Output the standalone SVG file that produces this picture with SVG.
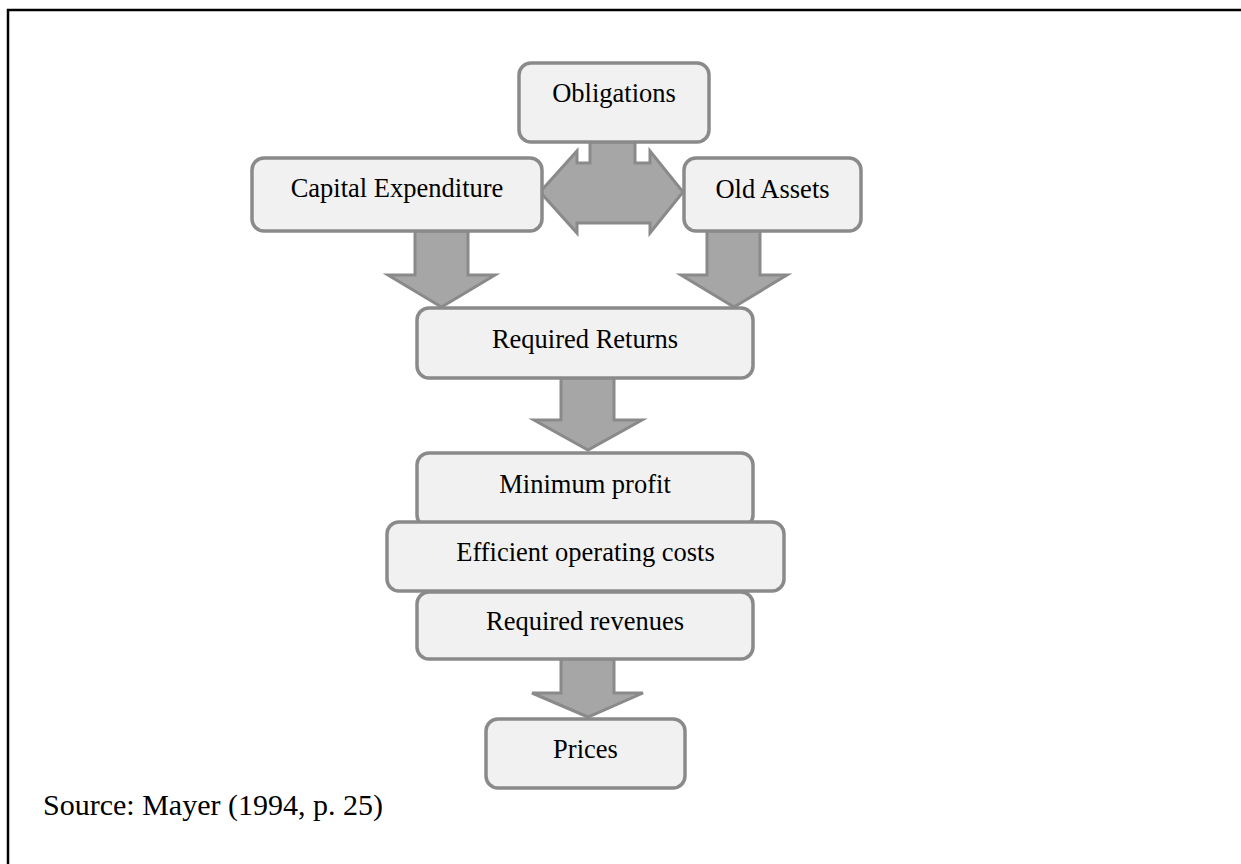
<svg xmlns="http://www.w3.org/2000/svg" width="1241" height="864" viewBox="0 0 1241 864">
  <style>
    .box { fill: #f1f1f1; stroke: #8a8a8a; stroke-width: 3.5; }
    .arrow { fill: #a6a6a6; stroke: #8a8a8a; stroke-width: 3; stroke-linejoin: miter; }
    .label { font-family: "Liberation Serif", "Times New Roman", serif; font-size: 26.5px; fill: #000; text-anchor: middle; }
    .frame { fill: none; stroke: #000; stroke-width: 2.5; }
    .source { font-family: "Liberation Serif", "Times New Roman", serif; font-size: 30px; fill: #000; }
  </style>
  <rect width="1241" height="864" fill="#fff"/>

  <!-- frame: top and left rules only -->
  <path class="frame" d="M8 864 V10 H1241"/>

  <!-- connectors -->
  <g id="connectors">
    <!-- Obligations splits toward both sides -->
    <path class="arrow" d="M590 142 V163 H577 V151 L540 192 L577 233 V223 H650 V233 L683 192 L650 151 V163 H635 V142 Z"/>
    <!-- Capital Expenditure to Required Returns -->
    <path class="arrow" d="M415 231 V275 H388 L441.5 307 L495 275 H468 V231 Z"/>
    <!-- Old Assets to Required Returns -->
    <path class="arrow" d="M707 231 V275 H681 L734 307 L787 275 H760 V231 Z"/>
    <!-- Required Returns to Minimum profit -->
    <path class="arrow" d="M561 378 V420 H534 L588 450 L642 420 H614 V378 Z"/>
    <!-- Required revenues to Prices -->
    <path class="arrow" d="M561 659 V693 H532 L588 717 L643 693 H614 V659 Z"/>
  </g>

  <g id="obligations">
    <rect class="box" x="519" y="63" width="190" height="79" rx="12"/>
    <text class="label" x="614" y="102">Obligations</text>
  </g>
  <g id="capital-expenditure">
    <rect class="box" x="252" y="158" width="290" height="73" rx="12"/>
    <text class="label" x="397" y="197">Capital Expenditure</text>
  </g>
  <g id="old-assets">
    <rect class="box" x="684" y="158" width="177" height="73" rx="12"/>
    <text class="label" x="772.5" y="198">Old Assets</text>
  </g>
  <g id="required-returns">
    <rect class="box" x="417" y="308" width="336" height="70" rx="12"/>
    <text class="label" x="585" y="348">Required Returns</text>
  </g>
  <g id="minimum-profit">
    <rect class="box" x="417" y="453" width="336" height="74" rx="12"/>
    <text class="label" x="585" y="493">Minimum profit</text>
  </g>
  <g id="required-revenues">
    <rect class="box" x="417" y="592" width="336" height="67" rx="12"/>
    <text class="label" x="585" y="630">Required revenues</text>
  </g>
  <g id="efficient-operating-costs">
    <rect class="box" x="387" y="522" width="397" height="69" rx="12"/>
    <text class="label" x="585.5" y="561">Efficient operating costs</text>
  </g>
  <g id="prices">
    <rect class="box" x="486" y="719" width="199" height="69" rx="12"/>
    <text class="label" x="585.5" y="758">Prices</text>
  </g>

  <text class="source" x="43" y="815">Source: Mayer (1994, p. 25)</text>
</svg>
